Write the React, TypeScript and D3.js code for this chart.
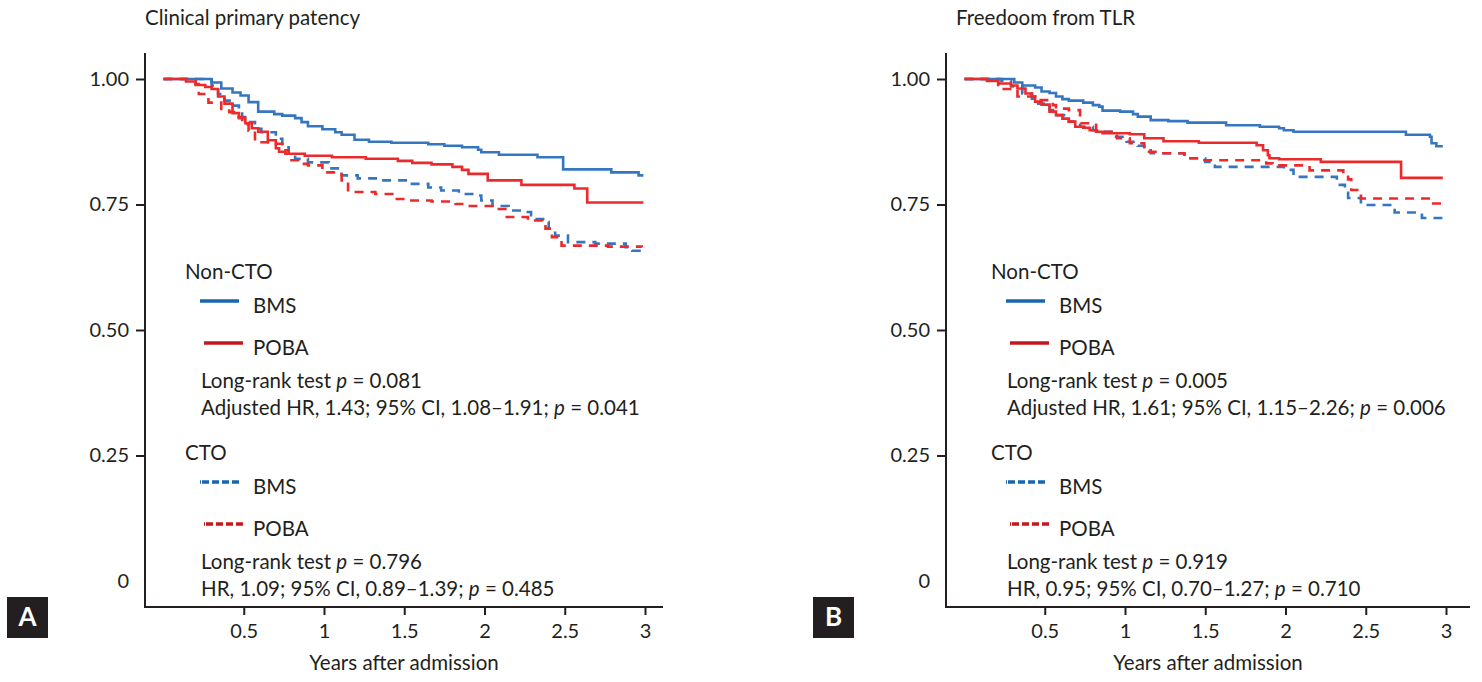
import { useEffect, useRef } from "react"
import * as d3 from "d3"

type Pt = [number, number]

const yearTicks = [0.5, 1, 1.5, 2, 2.5, 3]
const survivalTicks = [0.25, 0.5, 0.75, 1]

// Panel A – clinical primary patency, [years, survival] at each step
const patencyNonCtoBms: Pt[] = [[0,1],[0.30,0.993],[0.36,0.981],[0.43,0.973],[0.48,0.967],[0.53,0.954],[0.59,0.935],[0.69,0.930],[0.74,0.927],[0.82,0.922],[0.86,0.914],[0.90,0.906],[0.99,0.900],[1.07,0.894],[1.11,0.889],[1.19,0.879],[1.28,0.875],[1.42,0.873],[1.65,0.870],[1.75,0.867],[1.86,0.864],[1.96,0.859],[1.98,0.854],[2.09,0.849],[2.33,0.844],[2.49,0.820],[2.79,0.814],[2.96,0.808],[2.99,0.808]]
const patencyNonCtoPoba: Pt[] = [[0,1],[0.14,0.995],[0.20,0.988],[0.26,0.984],[0.30,0.980],[0.34,0.965],[0.38,0.951],[0.43,0.932],[0.47,0.922],[0.51,0.912],[0.55,0.902],[0.59,0.895],[0.65,0.878],[0.70,0.862],[0.72,0.855],[0.76,0.851],[0.88,0.847],[1.05,0.844],[1.26,0.841],[1.46,0.837],[1.55,0.833],[1.67,0.830],[1.80,0.825],[1.86,0.819],[1.90,0.811],[2.02,0.798],[2.23,0.789],[2.56,0.782],[2.64,0.754],[2.99,0.754]]
const patencyCtoBms: Pt[] = [[0,1],[0.28,0.997],[0.30,0.987],[0.34,0.970],[0.38,0.957],[0.43,0.947],[0.47,0.934],[0.49,0.924],[0.53,0.914],[0.57,0.901],[0.61,0.894],[0.70,0.881],[0.74,0.864],[0.78,0.851],[0.82,0.841],[0.90,0.834],[1.03,0.822],[1.11,0.808],[1.21,0.802],[1.36,0.798],[1.53,0.791],[1.65,0.784],[1.73,0.778],[1.84,0.771],[1.94,0.768],[1.98,0.758],[2.05,0.747],[2.15,0.738],[2.27,0.735],[2.29,0.721],[2.38,0.715],[2.40,0.702],[2.44,0.688],[2.52,0.675],[2.69,0.672],[2.88,0.665],[2.92,0.658],[2.98,0.658]]
const patencyCtoPoba: Pt[] = [[0,1],[0.20,0.990],[0.22,0.970],[0.28,0.953],[0.36,0.937],[0.41,0.934],[0.45,0.924],[0.49,0.910],[0.53,0.897],[0.57,0.877],[0.59,0.874],[0.65,0.871],[0.74,0.858],[0.78,0.838],[0.84,0.831],[0.90,0.828],[0.99,0.814],[1.11,0.798],[1.15,0.775],[1.32,0.771],[1.44,0.761],[1.53,0.758],[1.67,0.756],[1.82,0.751],[1.90,0.747],[2.05,0.741],[2.13,0.725],[2.27,0.718],[2.36,0.715],[2.38,0.702],[2.42,0.685],[2.48,0.668],[2.77,0.666],[2.98,0.665]]

// Panel B – freedom from TLR
const tlrNonCtoBms: Pt[] = [[0,1],[0.31,0.993],[0.36,0.987],[0.44,0.983],[0.48,0.975],[0.53,0.972],[0.57,0.965],[0.61,0.960],[0.65,0.957],[0.74,0.953],[0.80,0.948],[0.84,0.945],[0.86,0.937],[0.97,0.935],[1.05,0.930],[1.08,0.925],[1.16,0.918],[1.27,0.916],[1.39,0.913],[1.63,0.908],[1.84,0.905],[1.96,0.902],[1.99,0.898],[2.05,0.895],[2.75,0.889],[2.90,0.885],[2.91,0.872],[2.94,0.866],[2.98,0.866]]
const tlrNonCtoPoba: Pt[] = [[0,1],[0.14,0.996],[0.21,0.991],[0.29,0.987],[0.33,0.981],[0.38,0.971],[0.42,0.965],[0.44,0.955],[0.48,0.949],[0.53,0.935],[0.57,0.928],[0.61,0.921],[0.65,0.915],[0.69,0.905],[0.74,0.903],[0.78,0.898],[0.82,0.895],[0.86,0.892],[1.03,0.890],[1.12,0.882],[1.24,0.876],[1.46,0.873],[1.82,0.868],[1.86,0.858],[1.89,0.848],[1.90,0.842],[1.96,0.840],[2.22,0.835],[2.72,0.803],[2.98,0.803]]
const tlrCtoBms: Pt[] = [[0,1],[0.23,0.996],[0.29,0.985],[0.36,0.971],[0.42,0.961],[0.46,0.951],[0.53,0.938],[0.57,0.928],[0.65,0.915],[0.72,0.905],[0.80,0.898],[0.86,0.895],[0.93,0.885],[1.01,0.875],[1.08,0.867],[1.12,0.858],[1.16,0.852],[1.37,0.842],[1.50,0.835],[1.56,0.825],[1.99,0.819],[2.05,0.805],[2.32,0.789],[2.37,0.779],[2.39,0.763],[2.47,0.749],[2.68,0.734],[2.85,0.723],[2.98,0.716]]
const tlrCtoPoba: Pt[] = [[0,1],[0.21,0.980],[0.33,0.965],[0.44,0.958],[0.55,0.948],[0.57,0.941],[0.65,0.938],[0.72,0.912],[0.82,0.895],[0.95,0.882],[1.03,0.872],[1.12,0.855],[1.24,0.852],[1.37,0.842],[1.46,0.838],[1.88,0.832],[1.92,0.828],[2.15,0.818],[2.36,0.815],[2.39,0.800],[2.41,0.779],[2.47,0.762],[2.92,0.752],[2.98,0.752]]

const FONT = "Lato, 'Open Sans', sans-serif"
const FS = 20.5
const INK = "#231f20"
const BLUE = "#3576c1"
const RED = "#ec2a2c"
const LEG_BLUE = "#1865b0"
const LEG_RED = "#c4181f"

interface PanelProps {
  title: string
  axisX: number
  axisEnd: number
  titleX: number
  legendX: number
  nonCto: [Pt[], Pt[]]
  cto: [Pt[], Pt[]]
  nonCtoStats: [string, string]
  ctoStats: [string, string]
}

function Panel(props: PanelProps) {
  const gRef = useRef<SVGGElement>(null)

  useEffect(() => {
    if (!gRef.current) return
    const g = d3.select(gRef.current)
    g.selectAll("*").remove()

    const x0 = props.axisX + 18.5
    const x = d3.scaleLinear().domain([0, 3]).range([x0, x0 + 481.5])
    const y = d3.scaleLinear().domain([0, 1]).range([581, 79])
    const baseY = 607

    // axis lines (y axis sits left of time 0, x axis below survival 0)
    g.append("line").attr("x1", props.axisX).attr("x2", props.axisX).attr("y1", 53).attr("y2", baseY + 1)
      .attr("stroke", INK).attr("stroke-width", 2)
    g.append("line").attr("x1", props.axisX - 1).attr("x2", props.axisEnd).attr("y1", baseY).attr("y2", baseY)
      .attr("stroke", INK).attr("stroke-width", 2)

    const yAxis = d3.axisLeft(y).tickValues(survivalTicks).tickSize(9).tickPadding(7)
      .tickFormat((d: any) => d3.format(".2f")(d))
    const ya = g.append("g").attr("transform", `translate(${props.axisX},0)`).call(yAxis)
    ya.select(".domain").remove()
    ya.selectAll("line").attr("stroke", INK).attr("stroke-width", 2)
    ya.selectAll("text").attr("font-family", FONT).attr("font-size", 20).attr("fill", INK)

    g.append("text").attr("x", props.axisX - 16).attr("y", y(0)).attr("dy", "0.35em")
      .attr("text-anchor", "end").attr("font-family", FONT).attr("font-size", 20).attr("fill", INK).text("0")

    const xAxis = d3.axisBottom(x).tickValues(yearTicks).tickSize(8).tickPadding(9)
      .tickFormat((d: any) => String(d))
    const xa = g.append("g").attr("transform", `translate(0,${baseY})`).call(xAxis)
    xa.select(".domain").remove()
    xa.selectAll("line").attr("stroke", INK).attr("stroke-width", 2)
    xa.selectAll("text").attr("font-family", FONT).attr("font-size", 20).attr("fill", INK)

    g.append("text").attr("x", (props.axisX + props.axisEnd) / 2).attr("y", 670).attr("text-anchor", "middle")
      .attr("font-family", FONT).attr("font-size", FS).attr("fill", INK).text("Years after admission")

    g.append("text").attr("x", props.titleX).attr("y", 25)
      .attr("font-family", FONT).attr("font-size", FS).attr("fill", INK).text(props.title)

    // curves
    const line = d3.line<Pt>().x((d) => x(d[0])).y((d) => y(d[1])).curve(d3.curveStepAfter)
    const series = [
      { data: props.cto[0], color: BLUE, dash: "9,7" },
      { data: props.cto[1], color: RED, dash: "9,7" },
      { data: props.nonCto[0], color: BLUE, dash: null },
      { data: props.nonCto[1], color: RED, dash: null },
    ]
    series.forEach((s) => {
      g.append("path").attr("d", line(s.data) as string).attr("fill", "none")
        .attr("stroke", s.color).attr("stroke-width", 2.6)
        .attr("stroke-dasharray", s.dash)
    })

    // legend
    const lx = props.legendX
    const txt = (tx: number, ty: number, parts: [string, boolean][]) => {
      const t = g.append("text").attr("x", tx).attr("y", ty)
        .attr("font-family", FONT).attr("font-size", FS).attr("fill", INK)
      parts.forEach(([s, it]) => t.append("tspan").attr("font-style", it ? "italic" : "normal").text(s))
    }
    const statParts = (s: string): [string, boolean][] => {
      const i = s.lastIndexOf("p =")
      return [[s.slice(0, i), false], ["p", true], [s.slice(i + 1), false]]
    }
    const legendBlock = (top: number, head: string, dash: string | null, stats: [string, string]) => {
      txt(lx, top, [[head, false]])
      g.append("line").attr("x1", lx + 15).attr("x2", lx + 54).attr("y1", top + 22).attr("y2", top + 22)
        .attr("stroke", LEG_BLUE).attr("stroke-width", 3.5).attr("stroke-dasharray", dash)
      txt(lx + 68, top + 34, [["BMS", false]])
      g.append("line").attr("x1", lx + 19).attr("x2", lx + 58).attr("y1", top + 64).attr("y2", top + 64)
        .attr("stroke", LEG_RED).attr("stroke-width", 3.5).attr("stroke-dasharray", dash)
      txt(lx + 68, top + 76, [["POBA", false]])
      txt(lx + 16, top + 109, statParts(stats[0]))
      txt(lx + 16, top + 136, statParts(stats[1]))
    }
    legendBlock(279, "Non-CTO", null, props.nonCtoStats)
    legendBlock(460, "CTO", "1,1,7,3,7,3,7,3,7,3", props.ctoStats)
  }, [props])

  return <g ref={gRef} />
}

function LetterBox({ x, letter }: { x: number; letter: string }) {
  return (
    <g>
      <rect x={x} y={597} width={41} height={41} fill={INK} />
      <text x={x + 20.5} y={626} textAnchor="middle" fontFamily={FONT} fontSize={26} fontWeight={700} fill="#fff">
        {letter}
      </text>
    </g>
  )
}

export default function App() {
  return (
    <div style={{ position: "absolute", left: 0, top: 0, width: 1482, height: 682, background: "#fff" }}>
      <svg width={1482} height={682}>
        <Panel
          title="Clinical primary patency"
          axisX={145}
          axisEnd={663}
          titleX={145}
          legendX={185}
          nonCto={[patencyNonCtoBms, patencyNonCtoPoba]}
          cto={[patencyCtoBms, patencyCtoPoba]}
          nonCtoStats={["Long-rank test p = 0.081", "Adjusted HR, 1.43; 95% CI, 1.08–1.91; p = 0.041"]}
          ctoStats={["Long-rank test p = 0.796", "HR, 1.09; 95% CI, 0.89–1.39; p = 0.485"]}
        />
        <Panel
          title="Freedoom from TLR"
          axisX={946}
          axisEnd={1470}
          titleX={956}
          legendX={991}
          nonCto={[tlrNonCtoBms, tlrNonCtoPoba]}
          cto={[tlrCtoBms, tlrCtoPoba]}
          nonCtoStats={["Long-rank test p = 0.005", "Adjusted HR, 1.61; 95% CI, 1.15–2.26; p = 0.006"]}
          ctoStats={["Long-rank test p = 0.919", "HR, 0.95; 95% CI, 0.70–1.27; p = 0.710"]}
        />
        <LetterBox x={7} letter="A" />
        <LetterBox x={813} letter="B" />
      </svg>
    </div>
  )
}
